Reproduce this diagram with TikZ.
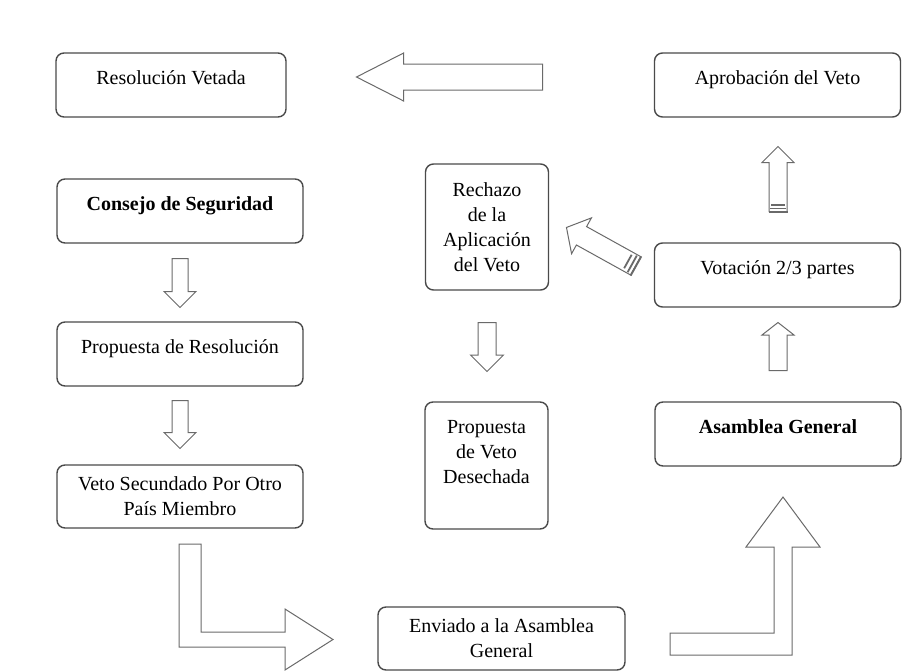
\documentclass[tikz,border=0pt]{standalone}
\usepackage{fontspec}
\setmainfont{Liberation Serif}
\definecolor{boxline}{HTML}{4A4A4A}
\definecolor{arrline}{HTML}{6A6A6A}
\usetikzlibrary{shapes.arrows,calc}

\begin{document}
\begin{tikzpicture}[
  x=0.5pt, y=-0.5pt,
  font=\fontsize{10}{12.5}\selectfont,
  box/.style={rectangle, draw=boxline, line width=0.7pt, fill=white,
    rounded corners=4pt, minimum width=123pt, minimum height=32pt,
    text height=7pt, text depth=8pt, inner sep=2pt},
  tallbox/.style={box, text height=, text depth=, align=center,
    minimum width=61.5pt, minimum height=63pt},
  blockarr/.style={single arrow, draw=arrline, fill=white, line width=0.5pt,
    inner xsep=0pt, minimum width=0pt, single arrow head indent=0pt,
    anchor=tail},
  stripe/.style={arrline, line width=0.9pt},
]
  \useasboundingbox (0,0) rectangle (912,671);

  % boxes
  \node[box, minimum width=115pt] (vetada) at (171,85) {Resolución Vetada};
  \node[box] (aprob) at (777.5,85) {Aprobación del Veto};
  \node[box] (consejo) at (180,211) {\textbf{Consejo de Seguridad}};
  \node[box] (propres) at (180,354) {Propuesta de Resolución};
  \node[tallbox, minimum width=123pt, minimum height=31.5pt] (secund)
    at (180,496.5) {Veto Secundado Por Otro\\País Miembro};
  \node[tallbox] (rechazo) at (487,227) {Rechazo\\de la\\Aplicación\\del Veto};
  \node[tallbox, minimum height=63.5pt, text depth=13.5pt] (desech)
    at (486.5,465.5) {Propuesta\\de Veto\\Desechada};
  \node[box] (votac) at (777.5,275) {Votación 2/3 partes};
  \node[box] (asamb) at (778,434) {\textbf{Asamblea General}};
  \node[tallbox, minimum width=123.5pt, minimum height=31.5pt] (enviado)
    at (501.5,638.5) {Enviado a la Asamblea\\General};

  % block arrows (placed by their tails)
  \node[blockarr, rotate=-90, minimum height=24.5pt, inner ysep=3.75pt,
    single arrow head extend=4pt] (arrcp) at (180,258) {};
  \node[blockarr, rotate=-90, minimum height=24pt, inner ysep=3.75pt,
    single arrow head extend=4pt] (arrps) at (180,400) {};
  \node[blockarr, rotate=-90, minimum height=24.5pt, inner ysep=4.25pt,
    single arrow head extend=3.75pt] (arrrd) at (487,322) {};
  \node[blockarr, rotate=90, minimum height=24pt, inner ysep=4.25pt,
    single arrow head extend=3.5pt, single arrow tip angle=104] (arrav)
    at (778,371) {};
  \node[blockarr, rotate=90, minimum height=32.5pt, inner ysep=4.25pt,
    single arrow head extend=3.5pt] (arrva) at (778,212) {};
  \node[blockarr, rotate=180, minimum height=93pt, inner ysep=6.25pt,
    single arrow head extend=5.5pt, single arrow tip angle=54] (arrveto)
    at (543,77) {};
  \node[blockarr, rotate=151, minimum height=39.5pt, inner ysep=5pt,
    single arrow head extend=5pt, single arrow tip angle=100] (arrrech)
    at (636,266) {};

  % striped tails
  \foreach \f in {0.07,0.15}{
    \draw[stripe] ($(arrva.before tail)!\f!(arrva.before head)$)
      -- ($(arrva.after tail)!\f!(arrva.after head)$);
    \draw[stripe] ($(arrrech.before tail)!\f!(arrrech.before head)$)
      -- ($(arrrech.after tail)!\f!(arrrech.after head)$);
  }
  \draw[stripe] (arrva.before tail) -- (arrva.after tail);
  \draw[stripe] (arrrech.before tail) -- (arrrech.after tail);

  % bent arrows
  \draw[arrline, fill=white, line width=0.5pt] (179,544) -- (201,544)
    -- (201,632) -- (285,632) -- (285,609) -- (333,639.5) -- (285,670)
    -- (285,647) -- (179,647) -- cycle;
  \draw[arrline, fill=white, line width=0.5pt] (670,633) -- (774,633)
    -- (774,547) -- (746,547) -- (783,497) -- (820,547) -- (792,547)
    -- (792,655) -- (670,655) -- cycle;
\end{tikzpicture}
\end{document}
